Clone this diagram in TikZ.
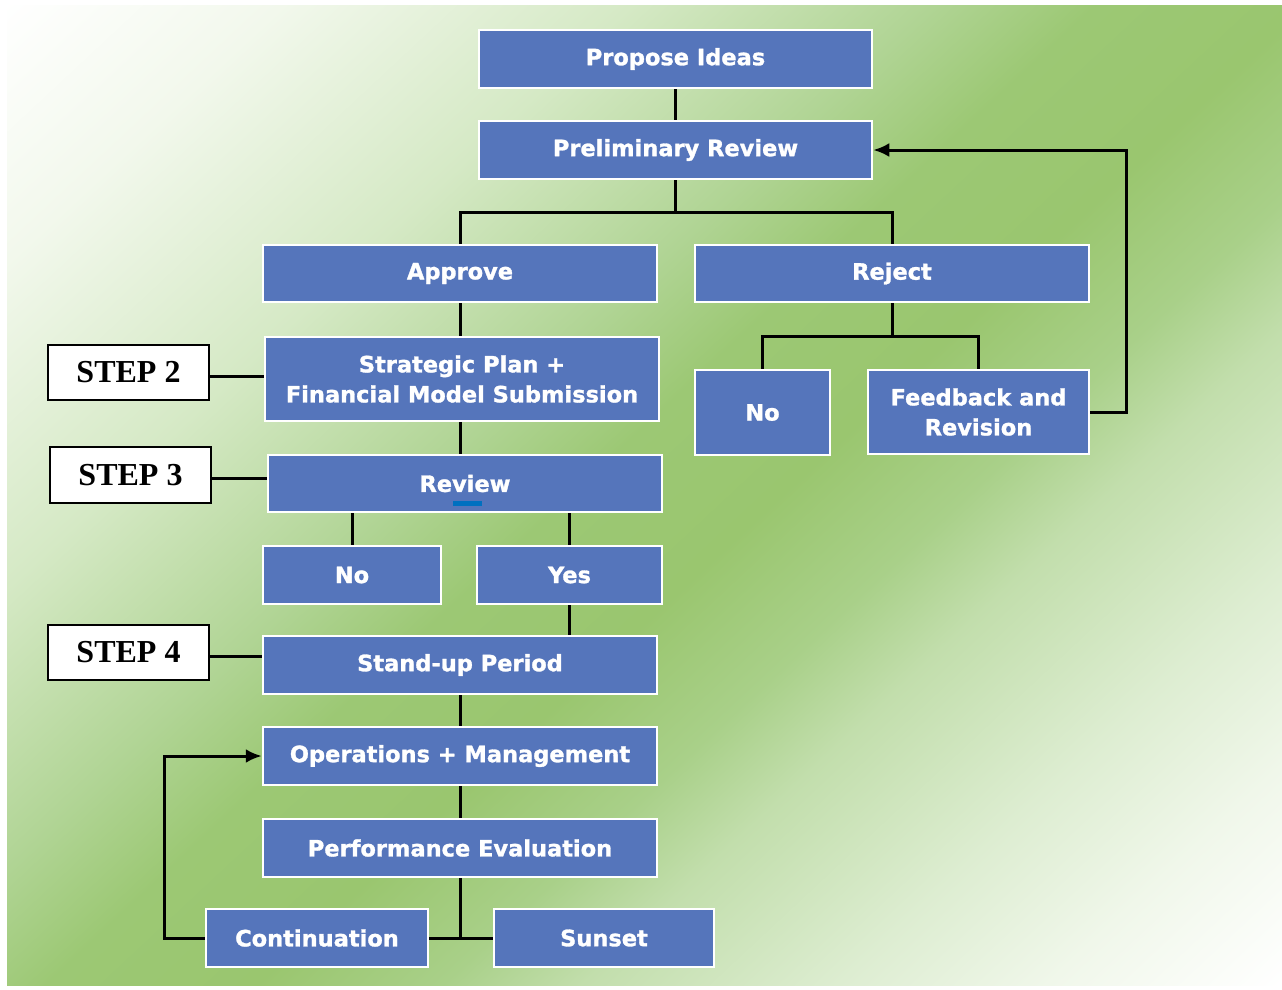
\documentclass[tikz,border=0pt]{standalone}
\usepackage{fontspec}
\usetikzlibrary{arrows.meta}
\newfontfamily\boxfont[BoldFeatures={FakeBold=1.3}]{DejaVu Sans}
\newfontfamily\stepfont{Liberation Serif}
\definecolor{boxblue}{RGB}{85,117,187}
\definecolor{markblue}{HTML}{0070C0}
\definecolor{gA}{HTML}{F2F8EC}
\definecolor{gB}{HTML}{D5E9C5}
\definecolor{gC}{HTML}{B0D494}
\definecolor{gD}{HTML}{9CC874}
\definecolor{gE}{HTML}{9AC66F}
\definecolor{gF}{HTML}{A9D089}
\definecolor{gG}{HTML}{C2DEAC}
\definecolor{gH}{HTML}{DDEDD1}
\definecolor{gI}{HTML}{F0F7EA}
\pgfdeclarehorizontalshading{bgshade}{100bp}{color(0bp)=(white); color(25bp)=(white); color(31bp)=(gA); color(38.5bp)=(gB); color(45bp)=(gC); color(48.5bp)=(gD); color(53bp)=(gE); color(57bp)=(gF); color(60bp)=(gG); color(65.5bp)=(gH); color(70bp)=(gI); color(75bp)=(white); color(100bp)=(white)}
\begin{document}
\begin{tikzpicture}[x=1pt,y=-1pt,
  box/.style={rectangle, fill=boxblue, draw=white, line width=2.5pt, inner sep=0pt,
    text=white, align=center, font=\boxfont\bfseries\fontsize{22.5}{30}\selectfont},
  stepbox/.style={rectangle, fill=white, draw=black, line width=2.5pt, inner sep=0pt,
    text=black, font=\stepfont\bfseries\fontsize{32}{36}\selectfont},
  link/.style={line width=3pt, draw=black},
  arr/.style={link, -{Latex[length=16pt,width=14pt]}}]
\useasboundingbox (0,0) rectangle (1282,989);
\fill[white] (0,0) rectangle (1282,989);
\begin{scope}
  \clip (7,5) rectangle (1282,985);
  \shade[shading=bgshade, shading angle=-47] (-158,-304) rectangle (1440,1294);
\end{scope}

% main column
\node[box, minimum width=393pt, minimum height=58pt] (propose) at (675.5,59) {Propose Ideas};
\node[box, minimum width=393pt, minimum height=58pt] (prelim) at (675.5,150) {Preliminary Review};
\node[box, minimum width=394pt, minimum height=57pt] (approve) at (460,273.5) {Approve};
\node[box, minimum width=394pt, minimum height=57pt] (reject) at (892,273.5) {Reject};
\node[box, minimum width=394pt, minimum height=84pt] (strategic) at (462,379) {Strategic Plan +\\Financial Model Submission};
\node[box, minimum width=135pt, minimum height=85pt] (noR) at (762.5,412.5) {No};
\node[box, minimum width=221pt, minimum height=84pt] (feedback) at (978.5,412) {Feedback and\\Revision};
\node[box, minimum width=394pt, minimum height=57pt] (review) at (465,483.5) {Review};
\node[box, minimum width=178pt, minimum height=58pt] (noL) at (352,575) {No};
\node[box, minimum width=185pt, minimum height=58pt] (yes) at (569.5,575) {Yes};
\node[box, minimum width=394pt, minimum height=58pt] (standup) at (460,665) {Stand-up Period};
\node[box, minimum width=394pt, minimum height=58pt] (ops) at (460,756) {Operations + Management};
\node[box, minimum width=394pt, minimum height=58pt] (perf) at (460,848) {Performance Evaluation};
\node[box, minimum width=222pt, minimum height=58pt] (cont) at (317,938) {Continuation};
\node[box, minimum width=220pt, minimum height=58pt] (sunset) at (604,938) {Sunset};

% step labels
\node[stepbox, minimum width=161pt, minimum height=55pt] (step2) at (128.5,372.5) {STEP 2};
\node[stepbox, minimum width=161pt, minimum height=56pt] (step3) at (130.5,475) {STEP 3};
\node[stepbox, minimum width=161pt, minimum height=55pt] (step4) at (128.5,652.5) {STEP 4};

% marker under Review
\fill[markblue] (453,501) rectangle (482,506);

% connectors
\draw[link] (propose.south) -- (prelim.north);
\draw[link] (prelim.south) -- ++(0,32) coordinate (j1);
\draw[link] (approve.north) |- (j1) -| (reject.north);
\draw[link] (reject.south) -- ++(0,33) coordinate (j2);
\draw[link] (noR.north) |- (j2) -| (feedback.north);
\draw[arr] (feedback.east) -- ++(36,0) |- (prelim.east);
\draw[link] (approve.south) -- (approve.south |- strategic.north);
\draw[link] (approve.south |- strategic.south) -- (approve.south |- review.north);
\draw[link] (noL.north |- review.south) -- (noL.north);
\draw[link] (yes.north |- review.south) -- (yes.north);
\draw[link] (yes.south) -- (yes.south |- standup.north);
\draw[link] (standup.south) -- (ops.north);
\draw[link] (ops.south) -- (perf.north);
\draw[link] (perf.south) -- (perf.south |- cont.east);
\draw[link] (cont.east) -- (sunset.west);
\draw[arr] (cont.west) -- ++(-40,0) |- (ops.west);
\draw[link] ([yshift=-3.5pt]step2.east) -- ([yshift=-3.5pt]step2.east -| strategic.west);
\draw[link] ([yshift=-3pt]step3.east) -- ([yshift=-3pt]step3.east -| review.west);
\draw[link] ([yshift=-4pt]step4.east) -- ([yshift=-4pt]step4.east -| standup.west);
\end{tikzpicture}
\end{document}
